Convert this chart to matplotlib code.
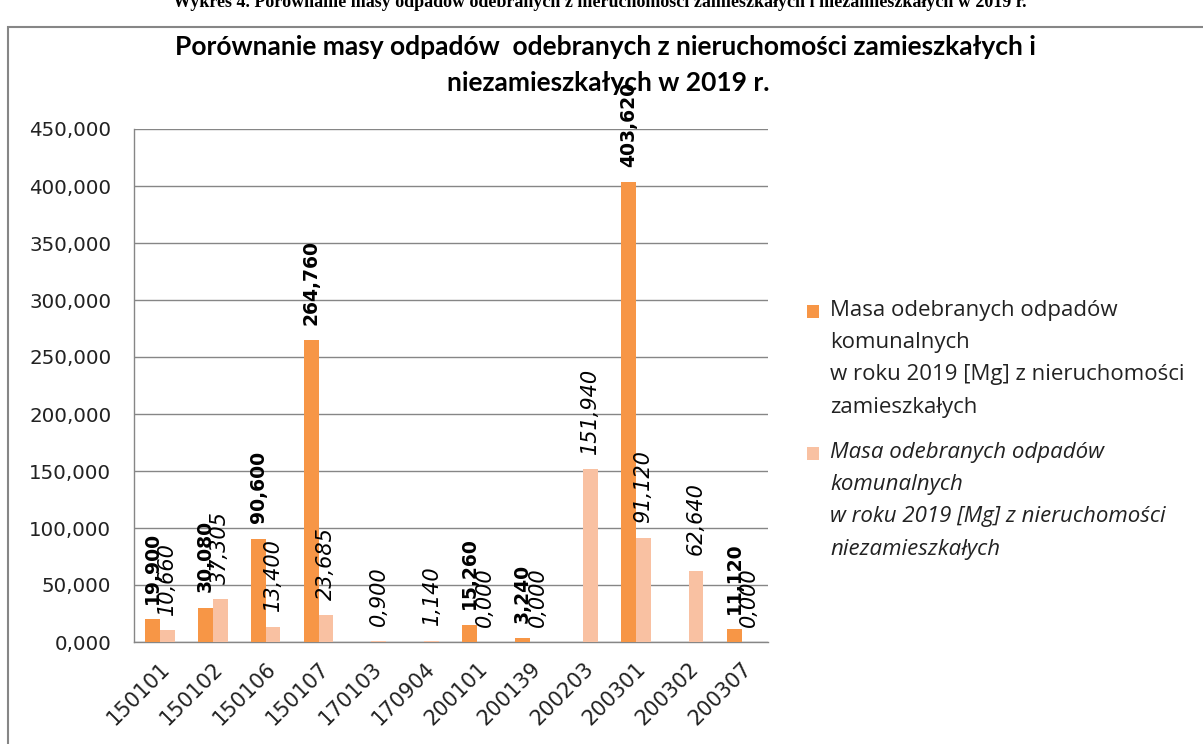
import numpy as np
import matplotlib
matplotlib.use('Agg')
import matplotlib.pyplot as plt
from matplotlib.patches import Rectangle
from matplotlib.container import BarContainer
from matplotlib.legend_handler import HandlerPatch, update_from_first_child

# data (Mg), nan = no bar / no label
codes = ['150101', '150102', '150106', '150107', '170103', '170904',
         '200101', '200139', '200203', '200301', '200302', '200307']
zamieszkale = [19.900, 30.080, 90.600, 264.760, np.nan, np.nan,
               15.260, 3.240, np.nan, 403.620, np.nan, 11.120]
niezamieszkale = [10.660, 37.305, 13.400, 23.685, 0.900, 1.140,
                  0.000, 0.000, 151.940, 91.120, 62.640, 0.000]
yticks = [0, 50, 100, 150, 200, 250, 300, 350, 400, 450]

label_z = ('Masa odebranych odpadów\nkomunalnych\n'
           'w roku 2019 [Mg] z nieruchomości\nzamieszkałych')
label_n = ('Masa odebranych odpadów\nkomunalnych\n'
           'w roku 2019 [Mg] z nieruchomości\nniezamieszkałych')

c_orange = '#F79646'
c_light = '#F9C1A2'
grid_c = '#868686'

def fmt_pl(v):
    # polish style decimal comma
    return f'{v:.3f}'.replace('.', ',')

def square_top(legend, orig_handle, xdescent, ydescent, width, height, fontsize):
    # put the legend square next to the first line of the multi-line label
    return Rectangle((-xdescent, -ydescent + 34), width, height)

fig = plt.figure(figsize=(12.03, 7.44), dpi=100)
W, H = 1203, 744
ax = fig.add_axes([133.5 / W, 1 - 642 / H, (768 - 133.5) / W, (642 - 129) / H])

x = np.arange(len(codes))
w = 0.28
b1 = ax.bar(x - w / 2, zamieszkale, w, color=c_orange, label=label_z, zorder=3)
b2 = ax.bar(x + w / 2, niezamieszkale, w, color=c_light, label=label_n, zorder=3)

ax.bar_label(b1, labels=['' if np.isnan(v) else fmt_pl(v) for v in zamieszkale],
             padding=11, rotation=90, fontsize=13.5, fontweight='bold',
             family='DejaVu Sans', zorder=4)
ax.bar_label(b2, labels=[fmt_pl(v) for v in niezamieszkale],
             padding=11, rotation=90, fontsize=15, fontstyle='italic',
             family='DejaVu Sans', zorder=4)

ax.set_xlim(-0.5, len(codes) - 0.5)
ax.set_ylim(0, 450)
ax.set_yticks(yticks)
ax.set_yticklabels([f'{v},000' for v in yticks], fontsize=14.3, color='#222222')
ax.set_xticks(x)
ax.set_xticklabels(codes, rotation=45, ha='right', rotation_mode='anchor',
                   fontsize=15, color='#222222')
ax.tick_params(axis='both', length=0)
ax.tick_params(axis='y', pad=16)
ax.tick_params(axis='x', pad=12)
ax.yaxis.grid(True, color=grid_c, lw=1, zorder=0)
ax.set_axisbelow(True)
for s in ['top', 'right']:
    ax.spines[s].set_visible(False)
for s in ['left', 'bottom']:
    ax.spines[s].set_color(grid_c)
    ax.spines[s].set_linewidth(1)

# titles
fig.text(605 / W, 1 - 47 / H, 'Porównanie masy odpadów  odebranych z nieruchomości zamieszkałych i',
         ha='center', va='center', fontsize=19, fontweight='bold', family='Lato')
fig.text(608 / W, 1 - 83 / H, 'niezamieszkałych w 2019 r.',
         ha='center', va='center', fontsize=19, fontweight='bold', family='Lato')
fig.text(600 / W, 1 - 7 / H,
         'Wykres 4. Porównanie masy odpadów odebranych z nieruchomości zamieszkałych i niezamieszkałych w 2019 r.',
         ha='center', va='baseline', fontsize=13, fontweight='bold', family='Liberation Serif')

# chart area border
fig.patches.append(Rectangle((8 / W, -0.05), 1.2, 1 - 27 / H + 0.05, transform=fig.transFigure,
                             fill=False, edgecolor=grid_c, lw=1.5))

leg = fig.legend(loc='upper left', bbox_to_anchor=(807 / W, 1 - 300 / H),
                 frameon=False, prop={'family': 'Open Sans', 'size': 16},
                 handlelength=0.55, handleheight=0.55, handletextpad=0.5,
                 labelspacing=1.1, borderpad=0, borderaxespad=0,
                 handler_map={BarContainer: HandlerPatch(patch_func=square_top,
                                                         update_func=update_from_first_child)})
leg.get_texts()[1].set_fontstyle('italic')
for t in leg.get_texts():
    t.set_linespacing(1.7)
    t.set_color('#222222')

fig.savefig('out.png', dpi=100)
